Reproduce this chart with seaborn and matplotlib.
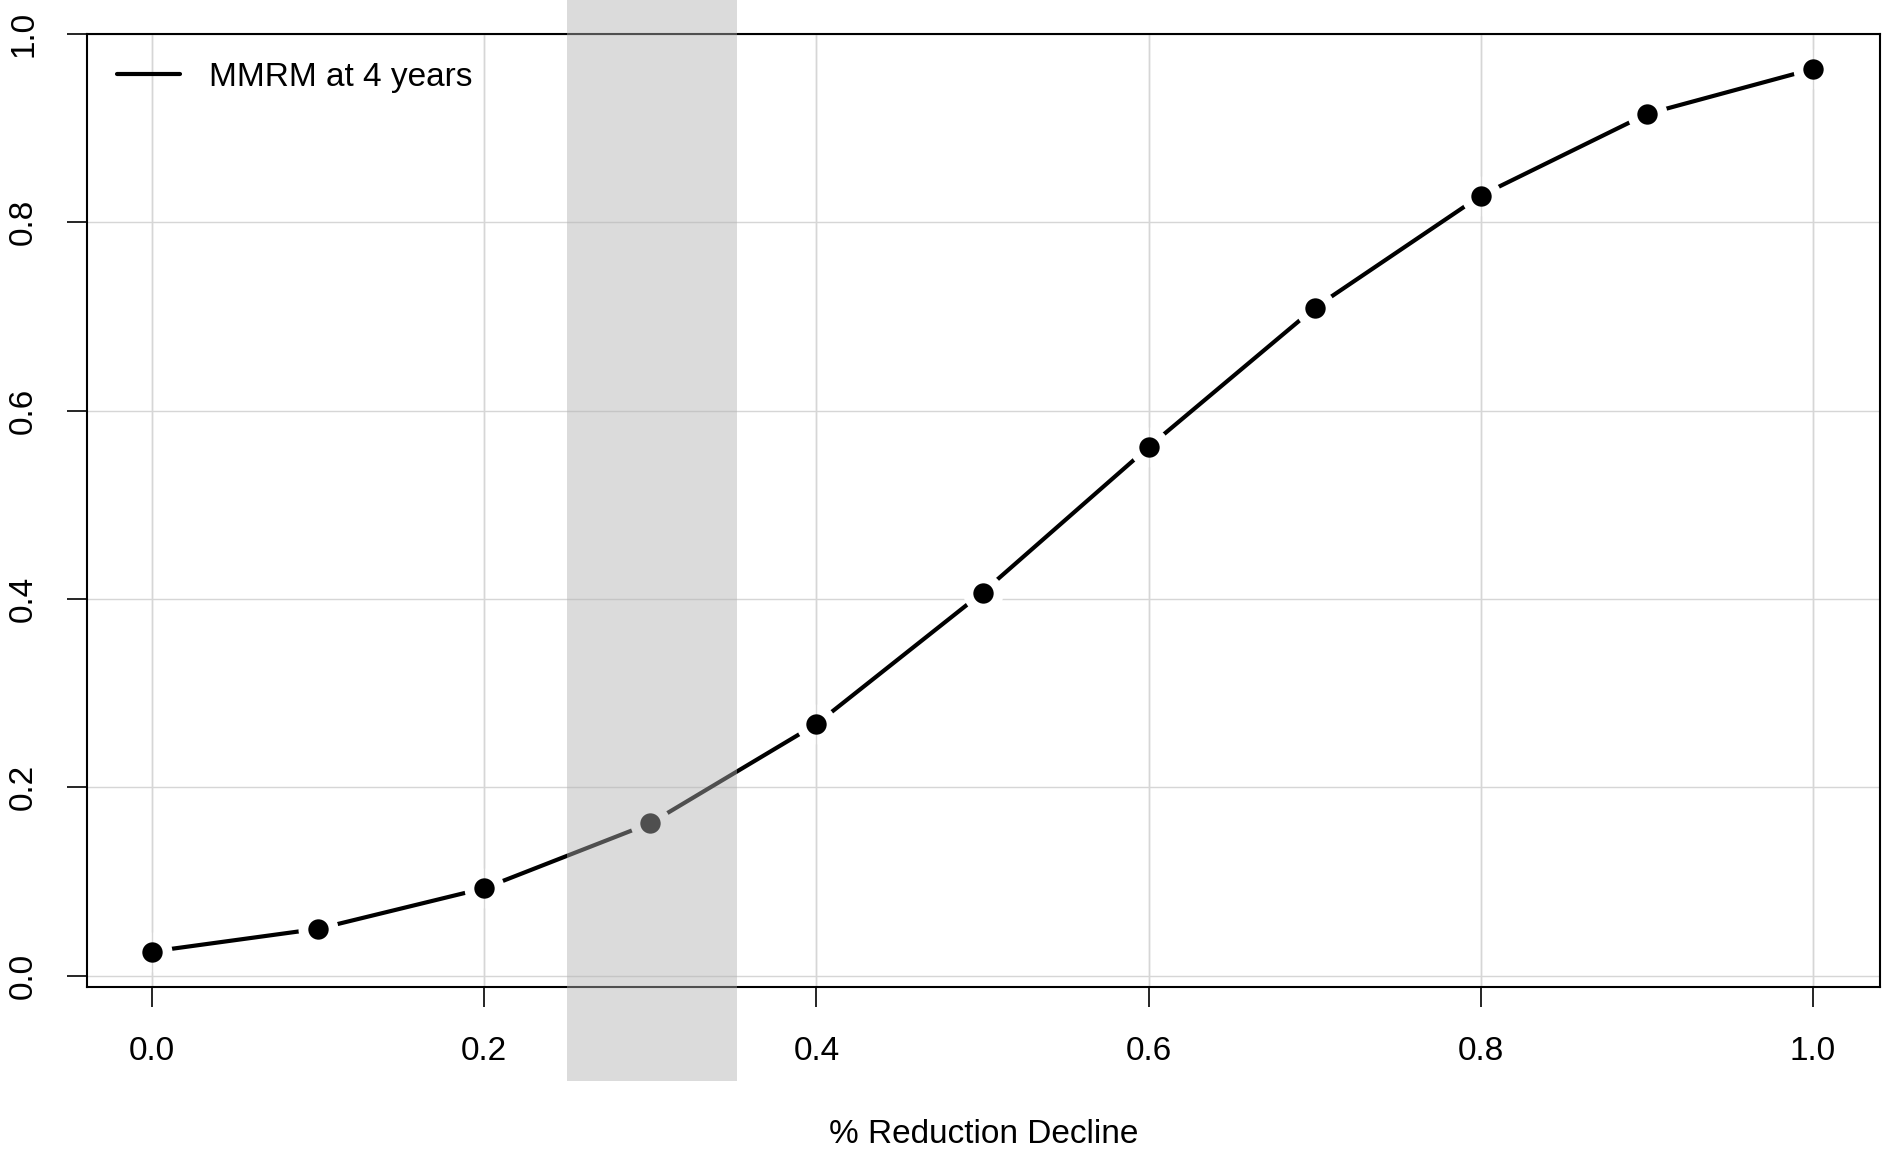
import matplotlib
matplotlib.use("Agg")
import matplotlib.pyplot as plt
import numpy as np
import pandas as pd
import seaborn as sns

# Proportion of trials reaching significance by treatment effect size
reduction = [0.0, 0.1, 0.2, 0.3, 0.4, 0.5, 0.6, 0.7, 0.8, 0.9, 1.0]
power_mmrm = [0.0255, 0.0496, 0.0927, 0.1617, 0.2671, 0.4068,
              0.5613, 0.7092, 0.8284, 0.9151, 0.9629]
series_label = "MMRM at 4 years"
x_ticks = [0.0, 0.2, 0.4, 0.6, 0.8, 1.0]
y_ticks = [0.0, 0.2, 0.4, 0.6, 0.8, 1.0]
tick_labels = ["0.0", "0.2", "0.4", "0.6", "0.8", "1.0"]
band_range = (0.25, 0.35)
x_title = "% Reduction Decline"

df = pd.DataFrame({"reduction": reduction, "power": power_mmrm})

sns.set_style("white")
plt.rcParams["font.family"] = ["Liberation Sans", "DejaVu Sans"]
plt.rcParams["text.color"] = "black"
plt.rcParams["xtick.color"] = "black"
plt.rcParams["ytick.color"] = "black"
plt.rcParams["axes.labelcolor"] = "black"

fig = plt.figure(figsize=(18.92, 11.51), dpi=100)
ax = fig.add_axes([87 / 1892, 1 - 987 / 1151, (1880 - 87) / 1892, (987 - 34) / 1151])

ax.set_xlim(-0.0391, 1.0403)
ax.set_ylim(-0.0122, 1.0)

# light reference grid
for v in x_ticks:
    ax.axvline(v, color="#d6d6d6", lw=1.0, zorder=0.5)
for v in y_ticks:
    ax.axhline(v, color="#d6d6d6", lw=1.0, zorder=0.5)

# connecting line, broken around each point
sns.lineplot(data=df, x="reduction", y="power", color="black", lw=3.0,
             label=series_label, ax=ax, zorder=2)
sns.scatterplot(data=df, x="reduction", y="power", color="white", s=830,
                linewidth=0, legend=False, ax=ax, zorder=2.5)
for v in x_ticks:
    ax.axvline(v, color="#d6d6d6", lw=1.0, zorder=2.6)
sns.scatterplot(data=df, x="reduction", y="power", color="black", s=215,
                linewidth=0, legend=False, ax=ax, zorder=3)

# highlighted effect-size range
ax.axvspan(band_range[0], band_range[1] + 0.002, ymin=-0.099, ymax=1.04,
           color=(177 / 255, 177 / 255, 177 / 255), alpha=0.45, lw=0,
           clip_on=False, zorder=5)

ax.set_xticks(x_ticks)
ax.set_xticklabels(tick_labels)
ax.set_yticks(y_ticks)
ax.set_yticklabels(tick_labels, rotation=90, va="center")
ax.tick_params(axis="both", direction="out", length=14.4, width=1.2,
               color="black", labelcolor="black", labelsize=24, pad=20,
               left=True, bottom=True)
ax.tick_params(axis="x", pad=21)

ax.set_xlabel(x_title, fontsize=24, labelpad=37, color="black")
ax.set_ylabel("")

for side in ["left", "right", "top", "bottom"]:
    ax.spines[side].set_visible(True)
    ax.spines[side].set_color("black")
    ax.spines[side].set_linewidth(1.5)
    ax.spines[side].set_zorder(4)

leg = ax.legend(loc="upper left", bbox_to_anchor=(30 / 1793, 0.971),
                frameon=False, fontsize=24, handlelength=1.9,
                handletextpad=0.87, borderpad=0, borderaxespad=0)
for t in leg.get_texts():
    t.set_color("black")

fig.savefig("out.png", dpi=100)
